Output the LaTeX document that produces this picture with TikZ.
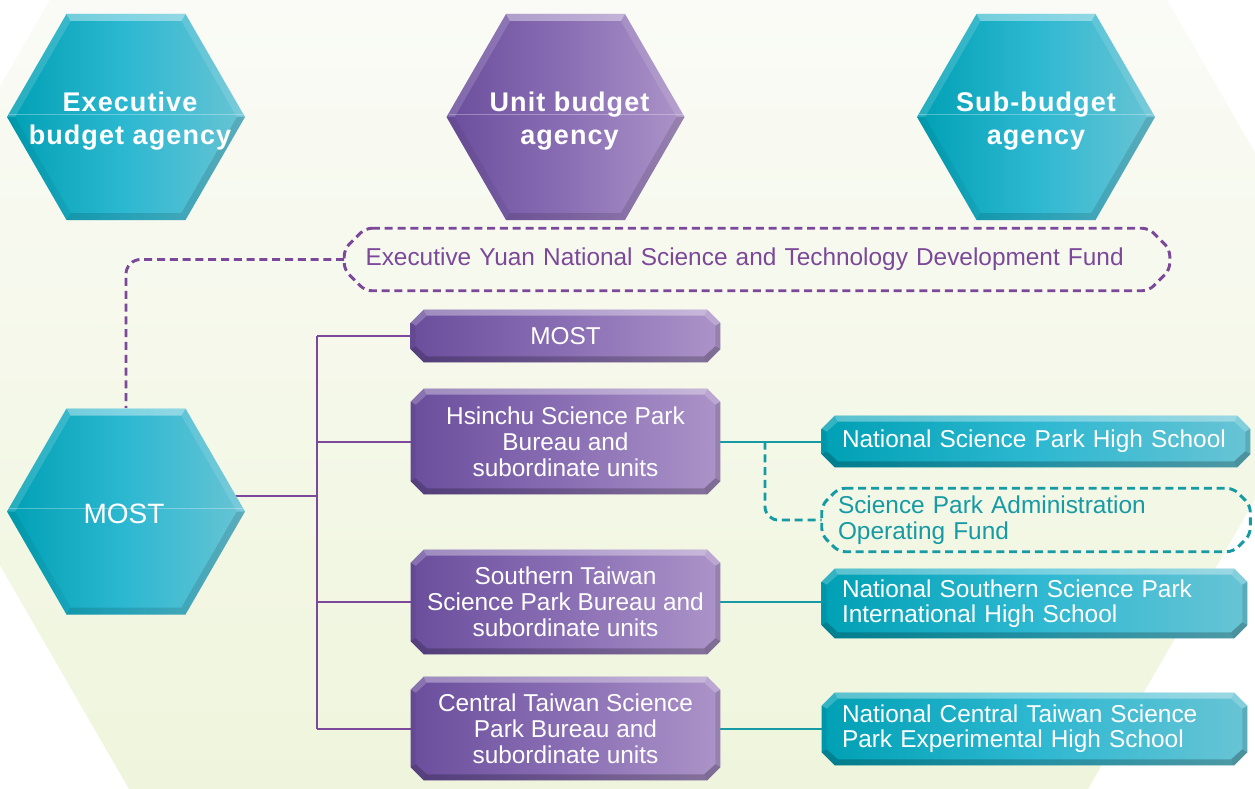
\documentclass[tikz,border=0pt]{standalone}
\usepackage{fontspec}
\setmainfont{Liberation Sans}
\usetikzlibrary{calc}
\definecolor{tealL}{RGB}{0,160,180}
\definecolor{tealM}{RGB}{45,184,209}
\definecolor{tealR}{RGB}{104,196,212}
\definecolor{purL}{RGB}{106,78,156}
\definecolor{purM}{RGB}{138,110,180}
\definecolor{purR}{RGB}{172,148,200}
\definecolor{purLine}{RGB}{124,72,154}
\definecolor{tealLine}{RGB}{22,154,164}
\definecolor{bgTop}{RGB}{250,251,246}
\definecolor{bgBot}{RGB}{239,245,220}
\pgfdeclarelayer{bg}\pgfdeclarelayer{lines}\pgfdeclarelayer{shapes}
\pgfsetlayers{bg,lines,shapes,main}

\newcommand{\hexshape}[4]{%
\begin{pgfonlayer}{shapes}
\shade[left color=#2,right color=#4,middle color=#3]
 ($(#1.center)+(-119,0)$) -- ($(#1.center)+(-59.5,-103)$) -- ($(#1.center)+(59.5,-103)$) -- ($(#1.center)+(119,0)$) -- ($(#1.center)+(59.5,103)$) -- ($(#1.center)+(-59.5,103)$) -- cycle;
\fill[white,opacity=.4] ($(#1.center)+(-59.5,-103)$) -- ($(#1.center)+(59.5,-103)$) -- ($(#1.center)+(55.4,-96)$) -- ($(#1.center)+(-55.4,-96)$) -- cycle;
\fill[white,opacity=.15] ($(#1.center)+(-119,0)$) -- ($(#1.center)+(-59.5,-103)$) -- ($(#1.center)+(-55.4,-96)$) -- ($(#1.center)+(-110.9,0)$) -- cycle;
\fill[white,opacity=.12] ($(#1.center)+(119,0)$) -- ($(#1.center)+(59.5,-103)$) -- ($(#1.center)+(55.4,-96)$) -- ($(#1.center)+(110.9,0)$) -- cycle;
\fill[black,opacity=.12] ($(#1.center)+(119,0)$) -- ($(#1.center)+(59.5,103)$) -- ($(#1.center)+(55.4,96)$) -- ($(#1.center)+(110.9,0)$) -- cycle;
\fill[black,opacity=.05] ($(#1.center)+(-119,0)$) -- ($(#1.center)+(-59.5,103)$) -- ($(#1.center)+(-55.4,96)$) -- ($(#1.center)+(-110.9,0)$) -- cycle;
\fill[black,opacity=.12] ($(#1.center)+(-59.5,103)$) -- ($(#1.center)+(59.5,103)$) -- ($(#1.center)+(55.4,96)$) -- ($(#1.center)+(-55.4,96)$) -- cycle;
\draw[white,opacity=.3,line width=0.6pt] ($(#1.center)+(-117,-3)$) -- ($(#1.center)+(117,-3)$);
\end{pgfonlayer}}

\newcommand{\chamshape}[4]{%
\begin{pgfonlayer}{shapes}
\shade[left color=#2,right color=#4,middle color=#3]
 ($(#1.north west)+(13,0)$) -- ($(#1.north east)+(-13,0)$) -- ($(#1.north east)+(0,13)$) -- ($(#1.south east)+(0,-13)$) -- ($(#1.south east)+(-13,0)$) -- ($(#1.south west)+(13,0)$) -- ($(#1.south west)+(0,-13)$) -- ($(#1.north west)+(0,13)$) -- cycle;
\fill[white,opacity=.35] ($(#1.north west)+(13,0)$) -- ($(#1.north east)+(-13,0)$) -- ($(#1.north east)+(-16,6)$) -- ($(#1.north west)+(16,6)$) -- cycle;
\fill[white,opacity=.2] ($(#1.north east)+(-13,0)$) -- ($(#1.north east)+(0,13)$) -- ($(#1.north east)+(-5,16)$) -- ($(#1.north east)+(-16,6)$) -- cycle;
\fill[white,opacity=.2] ($(#1.north west)+(13,0)$) -- ($(#1.north west)+(0,13)$) -- ($(#1.north west)+(5,16)$) -- ($(#1.north west)+(16,6)$) -- cycle;
\fill[black,opacity=.22] ($(#1.south west)+(13,0)$) -- ($(#1.south east)+(-13,0)$) -- ($(#1.south east)+(-16,-6)$) -- ($(#1.south west)+(16,-6)$) -- cycle;
\fill[black,opacity=.25] ($(#1.south east)+(-13,0)$) -- ($(#1.south east)+(0,-13)$) -- ($(#1.south east)+(-5,-16)$) -- ($(#1.south east)+(-16,-6)$) -- cycle;
\fill[black,opacity=.2] ($(#1.south west)+(13,0)$) -- ($(#1.south west)+(0,-13)$) -- ($(#1.south west)+(5,-16)$) -- ($(#1.south west)+(16,-6)$) -- cycle;
\fill[black,opacity=.12] ($(#1.north east)+(0,13)$) -- ($(#1.south east)+(0,-13)$) -- ($(#1.south east)+(-5,-16)$) -- ($(#1.north east)+(-5,16)$) -- cycle;
\fill[black,opacity=.06] ($(#1.north west)+(0,13)$) -- ($(#1.south west)+(0,-13)$) -- ($(#1.south west)+(5,-16)$) -- ($(#1.north west)+(5,16)$) -- cycle;
\end{pgfonlayer}}

% dashed chamfered outline: #1 node, #2 chamfer, #3 style
\newcommand{\dashocta}[3]{%
\draw[#3] ($(#1.north west)+(#2,0)$) -- ($(#1.north east)+(-#2,0)$) -- ($(#1.north east)+(0,#2)$) -- ($(#1.south east)+(0,-#2)$) -- ($(#1.south east)+(-#2,0)$) -- ($(#1.south west)+(#2,0)$) -- ($(#1.south west)+(0,-#2)$) -- ($(#1.north west)+(0,#2)$) -- cycle;}

\tikzset{
 hexnode/.style={rectangle,inner sep=0pt,minimum width=178.5pt,minimum height=154.5pt},
 hexbold/.style={text=white,align=center,inner sep=0pt,
   font=\fontsize{20.25}{24.75}\selectfont\bfseries\addfontfeature{LetterSpace=4}},
 hexplain/.style={text=white,inner sep=0pt,font=\fontsize{21}{24}\selectfont},
 purbox/.style={rectangle,inner sep=0pt,minimum width=231.75pt,text=white,align=center,
   font=\fontsize{18.3}{19.6}\selectfont},
 tealbox/.style={rectangle,inner xsep=15pt,inner ysep=0pt,text=white,align=left,
   font=\fontsize{18.3}{19}\selectfont},
 fundbox/.style={rectangle,text=purLine,align=left,inner xsep=15.75pt,inner ysep=0pt,
   text width=587.25pt,minimum height=46.5pt,font=\fontsize{18.3}{19}\selectfont},
 spabox/.style={rectangle,text=tealLine,align=left,inner xsep=12pt,inner ysep=0pt,
   text width=297pt,minimum height=47.25pt,font=\fontsize{18.3}{19.5}\selectfont},
 puroutline/.style={draw=purLine,line width=2.2pt,dash pattern=on 6pt off 3.6pt,rounded corners=5pt},
 tealoutline/.style={draw=tealLine,line width=2.2pt,dash pattern=on 6pt off 3.6pt,rounded corners=5pt},
 purline/.style={draw=purLine,line width=1.5pt},
 tealline/.style={draw=tealLine,line width=1.5pt},
 purdash/.style={draw=purLine,line width=2.2pt,dash pattern=on 6pt off 3.6pt,rounded corners=11pt},
 tealdash/.style={draw=tealLine,line width=2.2pt,dash pattern=on 6pt off 3.6pt,rounded corners=10pt},
}

\begin{document}
\begin{tikzpicture}[x=0.75pt,y=-0.75pt]
\useasboundingbox (0,0) rectangle (1255,788);
\begin{pgfonlayer}{bg}
\fill[white] (0,0) rectangle (1255,788);
\begin{scope}
\clip (-138,326) -- (223,-300) -- (994,-300) -- (1355,326) -- (1024,900) -- (193,900) -- cycle;
\shade[top color=bgTop,bottom color=bgBot] (0,0) rectangle (1255,788);
\end{scope}
\end{pgfonlayer}

% top hexagons
\node[hexnode] (exec) at (126,117) {};
\node[hexnode] (unit) at (565.5,117) {};
\node[hexnode] (sub) at (1036,117) {};
\hexshape{exec}{tealL}{tealM}{tealR}
\hexshape{unit}{purL}{purM}{purR}
\hexshape{sub}{tealL}{tealM}{tealR}
\node[hexbold] (execl) at ($(exec.center)+(4,4)$) {Executive\\budget agency};
\node[hexbold] (unitl) at ($(unit.center)+(4,4)$) {Unit budget\\agency};
\node[hexbold] (subl) at ($(sub.center)+(0,4)$) {Sub-budget\\agency};

% MOST hexagon
\node[hexnode] (mosthex) at (126,511.5) {};
\hexshape{mosthex}{tealL}{tealM}{tealR}
\node[hexplain] (mostl) at ($(mosthex.center)+(-2,2)$) {MOST};

% fund
\node[fundbox] (fund) at (757,259.5) {Executive Yuan National Science and Technology Development Fund};
\dashocta{fund}{21}{puroutline}

% purple boxes
\node[purbox,minimum height=39pt] (mostbox) at (565.5,336) {MOST};
\node[purbox,minimum height=78.75pt] (hsin) at (565.5,441.5) {Hsinchu Science Park\\Bureau and\\subordinate units};
\node[purbox,minimum height=78pt] (south) at (565.5,602) {Southern Taiwan\\Science Park Bureau and\\subordinate units};
\node[purbox,minimum height=77.25pt] (central) at (565.5,728.5) {Central Taiwan Science\\Park Bureau and\\subordinate units};
\chamshape{mostbox}{purL}{purM}{purR}
\chamshape{hsin}{purL}{purM}{purR}
\chamshape{south}{purL}{purM}{purR}
\chamshape{central}{purL}{purM}{purR}

% teal boxes
\node[tealbox,text width=291pt,minimum height=38.25pt] (nsphs) at (1036,441.5) {National Science Park High School};
\node[spabox] (spaof) at (1036,520) {Science Park Administration\\Operating Fund};
\dashocta{spaof}{17}{tealoutline}
\node[tealbox,text width=288.75pt,minimum height=51.75pt] (nsshs) at (1034.5,603.5) {National Southern Science Park\\International High School};
\node[tealbox,text width=288.75pt,minimum height=54pt] (nctshs) at (1034.5,729) {National Central Taiwan Science\\Park Experimental High School};
\chamshape{nsphs}{tealL}{tealM}{tealR}
\chamshape{nsshs}{tealL}{tealM}{tealR}
\chamshape{nctshs}{tealL}{tealM}{tealR}

% connectors
\coordinate (j) at (317,496);
\coordinate (tap) at (765,441.5);
\begin{pgfonlayer}{lines}
\draw[purdash] (fund.west) -| (mosthex.north);
\draw[purline] (j -| mosthex.center) -- (j);
\draw[purline] (mostbox.west -| j) -- (central.west -| j);
\foreach \b in {mostbox,hsin,south,central}
  \draw[purline] (\b.west -| j) -- (\b.west);
\draw[tealline] (hsin.east) -- (nsphs.west);
\draw[tealline] (south.east) -- (south.east -| nsshs.west);
\draw[tealline] (central.east) -- (central.east -| nctshs.west);
\draw[tealdash] (tap) |- (spaof.west);
\end{pgfonlayer}
\end{tikzpicture}
\end{document}
